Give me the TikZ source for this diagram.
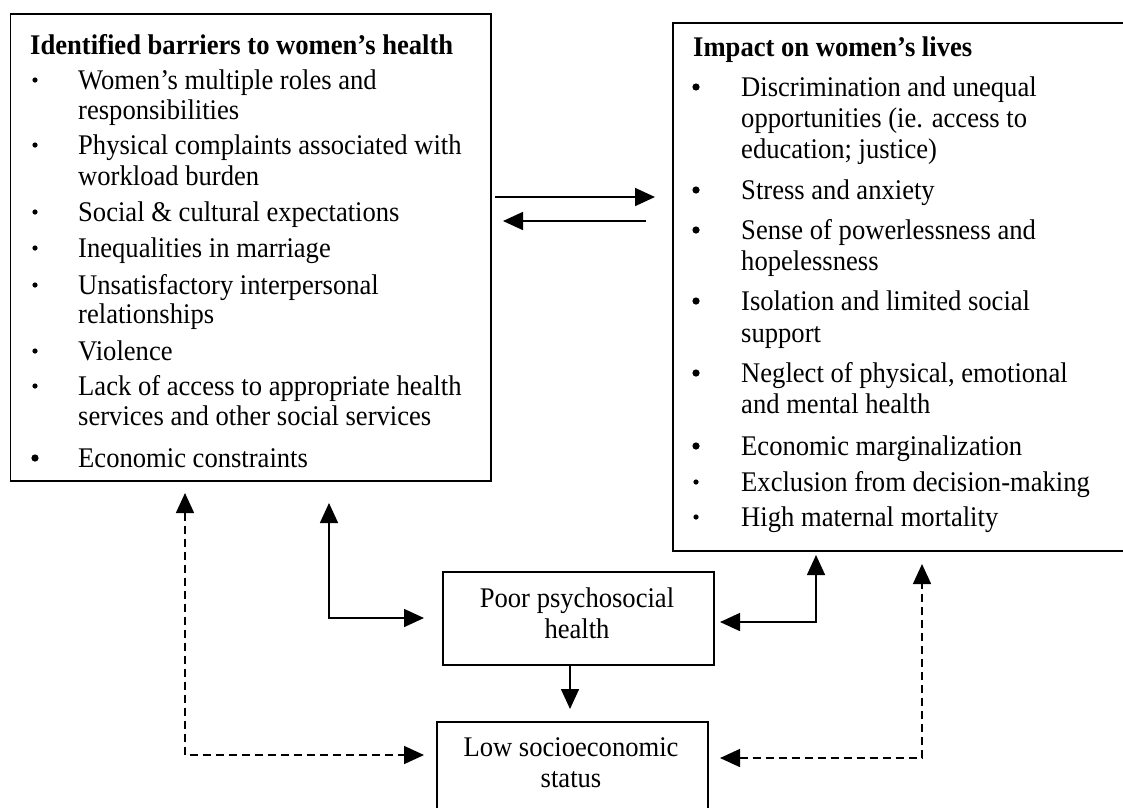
\documentclass[tikz,border=0pt]{standalone}
\usepackage{fontspec}
\setmainfont{Liberation Serif}
\usetikzlibrary{arrows.meta}
% slightly taller lettering
\newcommand{\tallfont}[1]{\scalebox{1}[1.07]{#1}}
\begin{document}
\begin{tikzpicture}[x=1pt,y=-1pt,
  every node/.style={font=\fontsize{26.6}{31}\selectfont},
  frame/.style={draw, line width=1.8pt, anchor=north west, inner sep=0pt},
  ln/.style={anchor=mid west, inner sep=0pt, yshift=-5.5pt},
  hd/.style={anchor=mid west, inner sep=0pt, yshift=-5.5pt, font=\fontsize{26.6}{31}\selectfont\bfseries},
  ctr/.style={align=center, inner sep=0pt},
  conn/.style={line width=1.6pt, -{Triangle[length=20pt,width=18pt]}},
  twoway/.style={line width=1.6pt, {Triangle[length=20pt,width=18pt]}-{Triangle[length=20pt,width=18pt]}},
  dashline/.style={dash pattern=on 8pt off 5pt}]
\useasboundingbox (0,0) rectangle (1123,807);
\clip (0,0) rectangle (1123,807);

% boxes
\node[frame, minimum width=480.5pt, minimum height=467pt] (barriers) at (9.5,13) {};
\node[frame, minimum width=480pt, minimum height=528pt] (impact) at (672,22) {};
\node[frame, minimum width=271pt, minimum height=93pt] (poor) at (442,571) {};
\node[frame, minimum width=271pt, minimum height=120pt] (low) at (436,721) {};

% barriers list
\node[hd] (bt) at (30,47) {\tallfont{Identified barriers to women’s health}};
\node[ln] (b1a) at (78,82) {\tallfont{Women’s multiple roles and}};
\node[ln] (b1b) at (78,112) {\tallfont{responsibilities}};
\node[ln] (b2a) at (78,147) {\tallfont{Physical complaints associated with}};
\node[ln] (b2b) at (78,178) {\tallfont{workload burden}};
\node[ln] (b3) at (78,214) {\tallfont{Social \& cultural expectations}};
\node[ln] (b4) at (78,250) {\tallfont{Inequalities in marriage}};
\node[ln] (b5a) at (78,287) {\tallfont{Unsatisfactory interpersonal}};
\node[ln] (b5b) at (78,316) {\tallfont{relationships}};
\node[ln] (b6) at (78,353) {\tallfont{Violence}};
\node[ln] (b7a) at (78,388) {\tallfont{Lack of access to appropriate health}};
\node[ln] (b7b) at (78,418) {\tallfont{services and other social services}};
\node[ln] (b8) at (78,460) {\tallfont{Economic constraints}};
\foreach \y in {82,147,214,250,287,353,388} \fill (35,\y-2) circle (2.6pt);
\fill (35,458) circle (3.6pt);

% impact list
\node[hd] (it) at (693,49) {\tallfont{Impact on women’s lives}};
\node[ln] (i1a) at (741,89) {\tallfont{Discrimination and unequal}};
\node[ln] (i1b) at (741,120) {\tallfont{opportunities (ie. access to}};
\node[ln] (i1c) at (741,151) {\tallfont{education; justice)}};
\node[ln] (i2) at (741,192) {\tallfont{Stress and anxiety}};
\node[ln] (i3a) at (741,232) {\tallfont{Sense of powerlessness and}};
\node[ln] (i3b) at (741,263) {\tallfont{hopelessness}};
\node[ln] (i4a) at (741,303) {\tallfont{Isolation and limited social}};
\node[ln] (i4b) at (741,335) {\tallfont{support}};
\node[ln] (i5a) at (741,375) {\tallfont{Neglect of physical, emotional}};
\node[ln] (i5b) at (741,406) {\tallfont{and mental health}};
\node[ln] (i6) at (741,448) {\tallfont{Economic marginalization}};
\node[ln] (i7) at (741,484) {\tallfont{Exclusion from decision-making}};
\node[ln] (i8) at (741,519) {\tallfont{High maternal mortality}};
\foreach \y in {89,192,232,303,375,448} \fill (696,\y-2) circle (3.6pt);
\foreach \y in {484,519} \fill (696,\y-2) circle (2.6pt);

% small boxes text
\node[ctr] (poortxt) at (577,613) {\tallfont{Poor psychosocial}\\\tallfont{health}};
\node[ctr] (lowtxt) at (571,763) {\tallfont{Low socioeconomic}\\\tallfont{status}};

% connector end points
\coordinate (a1s) at (495,197);
\coordinate (a1e) at (655,197);
\coordinate (a2s) at (646,221);
\coordinate (a2e) at (503,221);
\coordinate (ls1) at (329,503);
\coordinate (ls2) at (424,618);
\coordinate (ld1) at (185,493);
\coordinate (ld2) at (424,755);
\coordinate (rs1) at (720,622);
\coordinate (rs2) at (816,555);
\coordinate (rd1) at (720,758);
\coordinate (rd2) at (922,564);
\coordinate (dn) at (570,709);

% connectors
\draw[conn] (a1s) -- (a1e);
\draw[conn] (a2s) -- (a2e);
\draw[twoway] (ls1) |- (ls2);
\draw[twoway, dashline] (ld1) |- (ld2);
\draw[twoway] (rs1) -| (rs2);
\draw[twoway, dashline] (rd1) -| (rd2);
\draw[conn] (poor.south -| dn) -- (dn);
\end{tikzpicture}
\end{document}
